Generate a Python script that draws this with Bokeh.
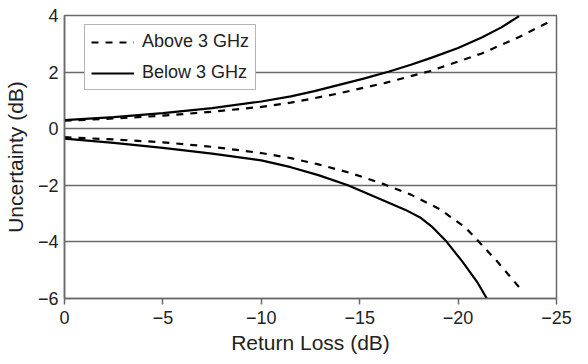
from bokeh.plotting import figure
from bokeh.models import Range1d, FixedTicker, Legend, LegendItem
from bokeh.embed import file_html
from bokeh.resources import INLINE

# Data
x_tick_values = [0, -5, -10, -15, -20, -25]
x_tick_labels = ["0", "\u22125", "\u221210", "\u221215", "\u221220", "\u221225"]
y_tick_values = [-6, -4, -2, 0, 2, 4]
y_tick_labels = ["\u22126", "\u22124", "\u22122", "0", "2", "4"]

below_upper_x = [0, -2.5, -5, -7.5, -10, -11.5, -12.7, -13.9, -15.2, -16.5, -17.6, -18.7, -20, -21.2, -22.2, -23.1]
below_upper_y = [0.3, 0.41, 0.55, 0.73, 0.96, 1.14, 1.33, 1.54, 1.77, 2.02, 2.26, 2.52, 2.85, 3.22, 3.58, 3.98]
below_lower_x = [0, -2.5, -5, -7.5, -10, -11.5, -12.9, -14.4, -16.15, -17.3, -18.1, -18.7, -19.4, -20.2, -21.0, -21.46]
below_lower_y = [-0.35, -0.5, -0.68, -0.88, -1.12, -1.36, -1.64, -2.0, -2.52, -2.86, -3.15, -3.48, -3.98, -4.68, -5.45, -6.0]

above_upper_x = [0, -2.5, -5, -7.5, -10, -11.5, -13.9, -16.3, -18.6, -21.2, -23.1, -24.7]
above_upper_y = [0.28, 0.36, 0.46, 0.6, 0.77, 0.92, 1.24, 1.62, 2.04, 2.66, 3.24, 3.8]
above_lower_x = [0, -2.5, -5, -7.5, -10, -11.5, -12.9, -14.5, -16.15, -17.6, -19.06, -20.35, -21.0, -22.0, -23.2]
above_lower_y = [-0.3, -0.38, -0.48, -0.64, -0.86, -1.04, -1.26, -1.56, -1.94, -2.33, -2.84, -3.48, -3.95, -4.7, -5.68]

FONT = "Liberation Sans"
GRID = "#6a6a6a"
TEXT = "#222222"

p = figure(width=572, height=356, output_backend="svg", toolbar_location=None,
           x_range=Range1d(0, -25), y_range=Range1d(-6, 4),
           min_border_left=56, min_border_right=16, min_border_top=15, min_border_bottom=52)

p.background_fill_color = "white"
p.border_fill_color = "white"
p.outline_line_color = GRID
p.outline_line_width = 1.5

p.xgrid.visible = False
p.ygrid.ticker = FixedTicker(ticks=[-4, -2, 0, 2])
p.ygrid.grid_line_color = GRID
p.ygrid.grid_line_width = 1.5

p.xaxis.ticker = FixedTicker(ticks=x_tick_values)
p.xaxis.major_label_overrides = dict(zip(x_tick_values, x_tick_labels))
p.yaxis.ticker = FixedTicker(ticks=y_tick_values)
p.yaxis.major_label_overrides = dict(zip(y_tick_values, y_tick_labels))

for ax in (p.xaxis, p.yaxis):
    ax.axis_line_color = GRID
    ax.axis_line_width = 1.5
    ax.minor_tick_line_color = None
    ax.major_tick_line_color = GRID
    ax.major_tick_line_width = 1.5
    ax.major_label_text_font = FONT
    ax.major_label_text_font_size = "18px"
    ax.major_label_text_color = TEXT
    ax.axis_label_text_font = FONT
    ax.axis_label_text_font_size = "21px"
    ax.axis_label_text_font_style = "normal"
    ax.axis_label_text_color = TEXT

p.xaxis.major_tick_out = 6
p.xaxis.major_tick_in = 0
p.xaxis.major_label_standoff = 6
p.xaxis.axis_label_standoff = 4
p.yaxis.major_tick_out = 0
p.yaxis.major_tick_in = 0
p.yaxis.major_label_standoff = 6
p.yaxis.axis_label_standoff = 8

p.xaxis.axis_label = "Return Loss (dB)"
p.yaxis.axis_label = "Uncertainty (dB)"

dash = "7 7"
a1 = p.line(above_upper_x, above_upper_y, line_color="black", line_width=2.2, line_dash=dash)
a2 = p.line(above_lower_x, above_lower_y, line_color="black", line_width=2.2, line_dash=dash)
b1 = p.line(below_upper_x, below_upper_y, line_color="black", line_width=2.2)
b2 = p.line(below_lower_x, below_lower_y, line_color="black", line_width=2.2)

legend = Legend(items=[LegendItem(label="Above 3 GHz", renderers=[a1]),
                       LegendItem(label="Below 3 GHz", renderers=[b1])],
                location=(20, 208))
legend.margin = 0
legend.padding = 6
legend.spacing = 10
legend.glyph_width = 43
legend.glyph_height = 20
legend.label_height = 20
legend.label_standoff = 8
legend.label_text_font = FONT
legend.label_text_font_size = "18px"
legend.label_text_color = TEXT
legend.border_line_color = GRID
legend.border_line_width = 1.5
legend.background_fill_color = "white"
legend.background_fill_alpha = 1.0
p.add_layout(legend, "center")

open("out.html", "w").write(file_html(p, INLINE))
